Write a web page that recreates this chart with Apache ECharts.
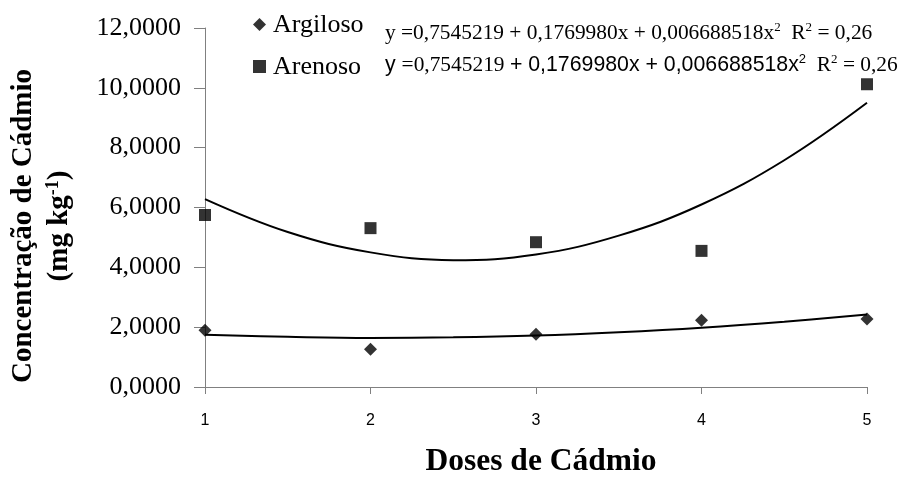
<!DOCTYPE html>
<html>
<head>
<meta charset="utf-8">
<script src="https://cdn.jsdelivr.net/npm/echarts@6/dist/echarts.min.js"></script>
<style>
  html, body { margin: 0; padding: 0; background: #fff; }
  #chart { width: 904px; height: 477px; }
</style>
</head>
<body>
<div id="chart"></div>
<script>
// doses (x) and measured concentrations
const doses = [1, 2, 3, 4, 5];
const argiloso = [1.90, 1.26, 1.76, 2.23, 2.27];
const arenoso = [5.75, 5.31, 4.84, 4.55, 10.12];

// trend lines
const trendX = [1, 1.5, 2, 2.5, 3, 3.5, 4, 4.5, 5];
const trendArgiloso = [1.75, 1.68, 1.64, 1.66, 1.72, 1.83, 1.98, 2.18, 2.42];
const trendArenoso = [6.28, 5.18, 4.50, 4.24, 4.43, 5.06, 6.10, 7.58, 9.50];

const yTicks = [0, 2, 4, 6, 8, 10, 12];
const seriesNames = ["Argiloso", "Arenoso"];

const serif = "Liberation Serif";
const sans = "Liberation Sans";

function pairs(xs, ys) {
  return xs.map((x, i) => [x, ys[i]]);
}

// superscript style helper
function sup(font) {
  return { fontFamily: font, fontSize: 13, fill: "#000", lineHeight: 24, verticalAlign: "top", padding: [0, 0, 9, 0] };
}
function txt(font, size) {
  return { fontFamily: font, fontSize: size, fill: "#000", lineHeight: 24 };
}
// legend labels (legend text ignores the serif font here, so draw them apart)
function legendLabel(name, y) {
  return {
    type: "text",
    x: 273,
    y: y,
    style: {
      text: "{n|" + name + "}",
      verticalAlign: "middle",
      rich: { n: { fontFamily: serif, fontSize: 26, fill: "#000", lineHeight: 28 } }
    }
  };
}

const chart = echarts.init(document.getElementById("chart"));

const option = {
  animation: false,
  grid: {
    left: 205,
    right: 37,
    top: 28,
    bottom: 90,
    containLabel: false
  },
  legend: {
    orient: "vertical",
    left: 253,
    top: 18,
    padding: 0,
    itemWidth: 13,
    itemHeight: 13,
    itemGap: 29,
    data: [
      { name: seriesNames[0], icon: "diamond" },
      { name: seriesNames[1], icon: "rect" }
    ],
    formatter: () => "",
    textStyle: { fontSize: 1 }
  },
  xAxis: {
    type: "value",
    min: 1,
    max: 5,
    interval: 1,
    axisLine: { lineStyle: { color: "#808080", width: 1 } },
    axisTick: { show: true, length: 7, lineStyle: { color: "#808080" } },
    splitLine: { show: false },
    axisLabel: {
      fontFamily: sans,
      fontSize: 16,
      color: "#000",
      margin: 26
    }
  },
  yAxis: {
    type: "value",
    min: yTicks[0],
    max: yTicks[yTicks.length - 1],
    interval: 2,
    axisLine: { show: true, lineStyle: { color: "#808080", width: 1 } },
    axisTick: { show: true, length: 11, lineStyle: { color: "#808080" } },
    splitLine: { show: false },
    axisLabel: {
      fontFamily: serif,
      fontSize: 26,
      color: "#000",
      margin: 24,
      formatter: v => v.toFixed(4).replace(".", ",")
    }
  },
  graphic: [
    legendLabel(seriesNames[0], 25),
    legendLabel(seriesNames[1], 67),
    {
      type: "text",
      x: 385,
      y: 33,
      style: {
        text: "{t|y =0,7545219 + 0,1769980x + 0,006688518x}{s|2}{t|  R}{s|2}{t| = 0,26}",
        verticalAlign: "middle",
        rich: { t: txt(serif, 21.4), s: sup(serif) }
      }
    },
    {
      type: "text",
      x: 385,
      y: 65,
      style: {
        text: "{a|y }{t|=0,7545219 }{a|+ 0,1769980x + 0,006688518x}{as|2}{t|  R}{s|2}{t| = 0,26}",
        verticalAlign: "middle",
        rich: { a: txt(sans, 21.3), as: sup(sans), t: txt(serif, 21.4), s: sup(serif) }
      }
    },
    {
      type: "text",
      x: 24,
      y: 226,
      rotation: Math.PI / 2,
      style: {
        text: "Concentração de Cádmio",
        fontFamily: serif,
        fontWeight: "bold",
        fontSize: 29,
        fill: "#000",
        align: "center",
        verticalAlign: "middle"
      }
    },
    {
      type: "text",
      x: 60,
      y: 226,
      rotation: Math.PI / 2,
      style: {
        text: "{b|(mg kg}{s|-1}{b|)}",
        align: "center",
        verticalAlign: "middle",
        rich: {
          b: { fontFamily: serif, fontWeight: "bold", fontSize: 29, fill: "#000", lineHeight: 32 },
          s: { fontFamily: serif, fontWeight: "bold", fontSize: 18, fill: "#000", lineHeight: 32, verticalAlign: "top", padding: [0, 0, 12, 0] }
        }
      }
    },
    {
      type: "text",
      x: 541,
      y: 462,
      style: {
        text: "Doses de Cádmio",
        fontFamily: serif,
        fontWeight: "bold",
        fontSize: 31.5,
        fill: "#000",
        align: "center",
        verticalAlign: "middle"
      }
    }
  ],
  series: [
    {
      name: seriesNames[0],
      type: "scatter",
      symbol: "diamond",
      symbolSize: [13, 13],
      itemStyle: { color: "#000" },
      data: pairs(doses, argiloso),
      z: 5
    },
    {
      name: seriesNames[1],
      type: "scatter",
      symbol: "rect",
      symbolSize: 12,
      itemStyle: { color: "#000" },
      data: pairs(doses, arenoso),
      z: 5
    },
    {
      name: "trendArgiloso",
      type: "line",
      smooth: 0.4,
      showSymbol: false,
      lineStyle: { color: "#000", width: 2 },
      data: pairs(trendX, trendArgiloso),
      z: 3
    },
    {
      name: "trendArenoso",
      type: "line",
      smooth: 0.4,
      showSymbol: false,
      lineStyle: { color: "#000", width: 2 },
      data: pairs(trendX, trendArenoso),
      z: 3
    }
  ]
};

chart.setOption(option);
</script>
</body>
</html>
